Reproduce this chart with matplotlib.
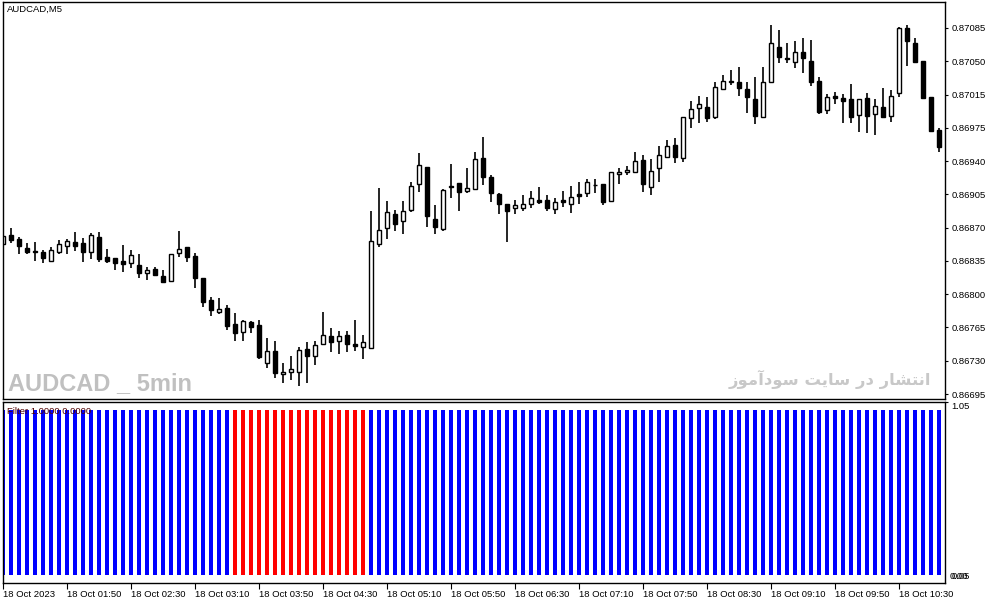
import numpy as np
import matplotlib
matplotlib.use("Agg")
import matplotlib.pyplot as plt

plt.rcParams['font.family'] = ['Liberation Sans', 'DejaVu Sans']

# AUDCAD M5 candles, 18 Oct 2023 01:10 .. 10:55
opens = [
    0.86855, 0.86864, 0.86860, 0.86851, 0.86847, 0.86846, 0.86837, 0.86846, 0.86853, 0.86857,
    0.86856, 0.86846, 0.86862, 0.86841, 0.86840, 0.86837, 0.86835, 0.86832, 0.86824, 0.86828,
    0.86821, 0.86815, 0.86845, 0.86852, 0.86842, 0.86819, 0.86795, 0.86782, 0.86787, 0.86770,
    0.86761, 0.86772, 0.86769, 0.86728, 0.86741, 0.86716, 0.86718, 0.86718, 0.86743, 0.86736,
    0.86748, 0.86757, 0.86751, 0.86758, 0.86748, 0.86745, 0.86744, 0.86855, 0.86872, 0.86887,
    0.86879, 0.86891, 0.86919, 0.86937, 0.86882, 0.86871, 0.86917, 0.86920, 0.86911, 0.86913,
    0.86946, 0.86926, 0.86908, 0.86898, 0.86893, 0.86893, 0.86898, 0.86902, 0.86902, 0.86892,
    0.86902, 0.86898, 0.86908, 0.86909, 0.86918, 0.86919, 0.86901, 0.86929, 0.86932, 0.86932,
    0.86944, 0.86916, 0.86936, 0.86948, 0.86960, 0.86946, 0.86989, 0.87000, 0.87001, 0.86990,
    0.87020, 0.87029, 0.87027, 0.87020, 0.87009, 0.86990, 0.87027, 0.87065, 0.87053, 0.87049,
    0.87059, 0.87050, 0.87029, 0.86998, 0.87013, 0.87010, 0.87009, 0.86992, 0.87010, 0.86993,
    0.87001, 0.86991, 0.87016, 0.87085, 0.87069, 0.87050, 0.87011, 0.86976,
]
highs = [
    0.86871, 0.86872, 0.86862, 0.86856, 0.86857, 0.86848, 0.86852, 0.86859, 0.86860, 0.86868,
    0.86861, 0.86867, 0.86868, 0.86850, 0.86840, 0.86854, 0.86848, 0.86844, 0.86830, 0.86830,
    0.86827, 0.86844, 0.86869, 0.86852, 0.86845, 0.86819, 0.86798, 0.86797, 0.86790, 0.86781,
    0.86774, 0.86773, 0.86774, 0.86755, 0.86752, 0.86728, 0.86736, 0.86745, 0.86750, 0.86752,
    0.86782, 0.86765, 0.86762, 0.86762, 0.86774, 0.86758, 0.86890, 0.86914, 0.86901, 0.86891,
    0.86901, 0.86921, 0.86952, 0.86937, 0.86896, 0.86913, 0.86940, 0.86920, 0.86936, 0.86953,
    0.86969, 0.86928, 0.86909, 0.86898, 0.86902, 0.86907, 0.86911, 0.86916, 0.86907, 0.86904,
    0.86911, 0.86917, 0.86921, 0.86924, 0.86924, 0.86919, 0.86932, 0.86936, 0.86938, 0.86953,
    0.86950, 0.86945, 0.86959, 0.86966, 0.86968, 0.86990, 0.87007, 0.87013, 0.87011, 0.87027,
    0.87035, 0.87040, 0.87043, 0.87027, 0.87033, 0.87043, 0.87088, 0.87083, 0.87069, 0.87071,
    0.87074, 0.87072, 0.87033, 0.87015, 0.87017, 0.87015, 0.87025, 0.87009, 0.87016, 0.87009,
    0.87021, 0.87019, 0.87086, 0.87088, 0.87074, 0.87050, 0.87011, 0.86978,
]
lows = [
    0.86855, 0.86856, 0.86844, 0.86844, 0.86837, 0.86835, 0.86837, 0.86844, 0.86844, 0.86847,
    0.86836, 0.86839, 0.86836, 0.86835, 0.86827, 0.86825, 0.86829, 0.86819, 0.86816, 0.86821,
    0.86813, 0.86814, 0.86841, 0.86836, 0.86808, 0.86788, 0.86778, 0.86780, 0.86763, 0.86751,
    0.86751, 0.86760, 0.86732, 0.86723, 0.86712, 0.86707, 0.86710, 0.86704, 0.86707, 0.86726,
    0.86748, 0.86740, 0.86738, 0.86740, 0.86741, 0.86732, 0.86744, 0.86852, 0.86860, 0.86869,
    0.86866, 0.86889, 0.86910, 0.86873, 0.86866, 0.86869, 0.86904, 0.86890, 0.86909, 0.86913,
    0.86918, 0.86900, 0.86887, 0.86857, 0.86887, 0.86890, 0.86893, 0.86898, 0.86890, 0.86887,
    0.86894, 0.86888, 0.86898, 0.86905, 0.86909, 0.86896, 0.86900, 0.86919, 0.86928, 0.86930,
    0.86910, 0.86907, 0.86921, 0.86946, 0.86941, 0.86942, 0.86978, 0.86984, 0.86985, 0.86988,
    0.87020, 0.87024, 0.87013, 0.86994, 0.86983, 0.86990, 0.87027, 0.87048, 0.87048, 0.87042,
    0.87037, 0.87023, 0.86993, 0.86993, 0.87004, 0.86984, 0.86984, 0.86974, 0.86973, 0.86971,
    0.86990, 0.86985, 0.87011, 0.87045, 0.87048, 0.87010, 0.86974, 0.86953,
]
closes = [
    0.86863, 0.86859, 0.86853, 0.86846, 0.86846, 0.86840, 0.86848, 0.86855, 0.86858, 0.86853,
    0.86846, 0.86864, 0.86839, 0.86837, 0.86835, 0.86834, 0.86843, 0.86824, 0.86827, 0.86822,
    0.86814, 0.86844, 0.86850, 0.86841, 0.86819, 0.86793, 0.86785, 0.86786, 0.86768, 0.86760,
    0.86773, 0.86766, 0.86734, 0.86741, 0.86717, 0.86719, 0.86722, 0.86742, 0.86736, 0.86747,
    0.86758, 0.86750, 0.86757, 0.86748, 0.86746, 0.86750, 0.86858, 0.86870, 0.86889, 0.86876,
    0.86890, 0.86917, 0.86939, 0.86885, 0.86873, 0.86912, 0.86916, 0.86910, 0.86914, 0.86945,
    0.86926, 0.86909, 0.86897, 0.86890, 0.86896, 0.86897, 0.86904, 0.86900, 0.86893, 0.86900,
    0.86900, 0.86905, 0.86906, 0.86921, 0.86918, 0.86900, 0.86932, 0.86932, 0.86934, 0.86943,
    0.86919, 0.86933, 0.86950, 0.86959, 0.86948, 0.86990, 0.86999, 0.87004, 0.86989, 0.87022,
    0.87029, 0.87027, 0.87021, 0.87011, 0.86991, 0.87027, 0.87069, 0.87054, 0.87052, 0.87059,
    0.87053, 0.87027, 0.86995, 0.87011, 0.87010, 0.87007, 0.86990, 0.87009, 0.86991, 0.87002,
    0.86990, 0.87013, 0.87085, 0.87071, 0.87049, 0.87010, 0.86975, 0.86958,
]

# Filter indicator: 1 = blue buffer, 0 = red buffer
filter_state = [
    1, 1, 1, 1, 1, 1, 1, 1, 1, 1, 1, 1, 1, 1, 1, 1, 1, 1, 1, 1,
    1, 1, 1, 1, 1, 1, 1, 1, 1, 0, 0, 0, 0, 0, 0, 0, 0, 0, 0, 0,
    0, 0, 0, 0, 0, 0, 1, 1, 1, 1, 1, 1, 1, 1, 1, 1, 1, 1, 1, 1,
    1, 1, 1, 1, 1, 1, 1, 1, 1, 1, 1, 1, 1, 1, 1, 1, 1, 1, 1, 1,
    1, 1, 1, 1, 1, 1, 1, 1, 1, 1, 1, 1, 1, 1, 1, 1, 1, 1, 1, 1,
    1, 1, 1, 1, 1, 1, 1, 1, 1, 1, 1, 1, 1, 1, 1, 1, 1, 1,
]

price_labels = ["0.87085", "0.87050", "0.87015", "0.86975", "0.86940", "0.86905",
                "0.86870", "0.86835", "0.86800", "0.86765", "0.86730", "0.86695"]
time_tick_bars = [0, 8, 16, 24, 32, 40, 48, 56, 64, 72, 80, 88, 96, 104, 112]
time_labels = ["18 Oct 2023", "18 Oct 01:50", "18 Oct 02:30", "18 Oct 03:10",
               "18 Oct 03:50", "18 Oct 04:30", "18 Oct 05:10", "18 Oct 05:50",
               "18 Oct 06:30", "18 Oct 07:10", "18 Oct 07:50", "18 Oct 08:30",
               "18 Oct 09:10", "18 Oct 09:50", "18 Oct 10:30"]

o = np.array(opens)
h = np.array(highs)
l = np.array(lows)
c = np.array(closes)
x = np.arange(len(o))
state = np.array(filter_state)

W, H = 991, 605
fig = plt.figure(figsize=(W / 100, H / 100), dpi=100)
ax = fig.add_axes([2.7 / W, 1 - 399 / H, (945 - 2.7) / W, (399 - 2) / H])
ax2 = fig.add_axes([2.7 / W, 1 - 583 / H, (945 - 2.7) / W, (583 - 402) / H])

# candles
ax.vlines(x, l, h, color="black", lw=1.2, zorder=1)
up = c >= o
ax.bar(x[up], (c - o)[up], bottom=o[up], width=0.5, color="white",
       edgecolor="black", lw=1.0, zorder=2)
ax.bar(x[~up], (o - c)[~up], bottom=c[~up], width=0.5, color="black",
       edgecolor="black", lw=1.0, zorder=2)

ax.set_xlim(-0.04, 117.75)
ax.set_ylim(0.866897, 0.871127)
ax.yaxis.tick_right()
ax.set_yticks(np.linspace(0.87085, 0.86695, len(price_labels)))
ax.set_yticklabels(price_labels)
ax.tick_params(axis="y", direction="out", length=2.5, width=0.8, pad=2, labelsize=6.8)
ax.set_xticks([])
for s in ax.spines.values():
    s.set_linewidth(1.0)

ax.text(0.005, 0.992, "AUDCAD,M5", transform=ax.transAxes, fontsize=6.8,
        ha="left", va="top")
ax.text(0.006, 0.023, "AUDCAD _ 5min", transform=ax.transAxes, fontsize=17,
        fontweight="bold", color="#c0c0c0", ha="left", va="baseline")
# "انتشار در سایت سودآموز" written in shaped, visual-order glyphs
fa_text = ("\ufeaf\ufeee\ufee3\ufe81\ufea9\ufeee\ufeb3 \ufe96\ufbfe\ufe8e\ufeb3 "
           "\ufead\ufea9 \ufead\ufe8e\ufeb8\ufe98\ufee7\ufe8d")
ax.text(0.985, 0.036, fa_text, transform=ax.transAxes, fontsize=11.8,
        fontweight="bold", color="#c8c8c8", ha="right", va="baseline",
        family=["DejaVu Sans"])

# indicator panel
ax2.bar(x, state, width=0.6, color="#0000ff", zorder=2)
ax2.bar(x, 1 - state, width=0.6, color="#ff0000", zorder=2)
ax2.set_xlim(-0.04, 117.75)
ax2.set_ylim(-0.05, 1.05)
ax2.yaxis.tick_right()
ax2.set_yticks([1.05])
ax2.set_yticklabels(["1.05"], va="top")
ax2.tick_params(axis="y", direction="out", length=2.5, width=0.8, pad=2, labelsize=6.8)
ax2.text(1.0045, 0.01, "0.00", transform=ax2.transAxes, fontsize=6.8, va="bottom")
ax2.text(1.007, 0.01, "0.05", transform=ax2.transAxes, fontsize=6.8, va="bottom")
ax2.set_xticks(time_tick_bars)
ax2.set_xticklabels(time_labels, ha="left")
ax2.tick_params(axis="x", direction="out", length=4, width=0.8, pad=1, labelsize=6.8)
for s in ax2.spines.values():
    s.set_linewidth(1.0)
ax2.text(0.005, 0.975, "Filter 1.0000 0.0000", transform=ax2.transAxes,
         fontsize=6.8, ha="left", va="top", color="#500000", zorder=5)

fig.savefig("out.png", dpi=100)
